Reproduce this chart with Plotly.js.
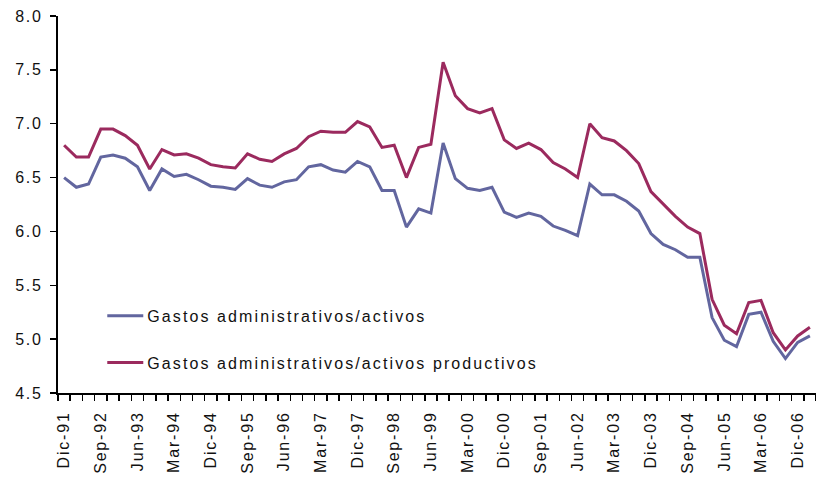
<!DOCTYPE html>
<html><head><meta charset="utf-8">
<script src="https://cdn.plot.ly/plotly-3.0.1.min.js"></script>
<style>
html,body{margin:0;padding:0;background:#fff;}
svg text{letter-spacing:1.8px;}
svg text.legendtext{letter-spacing:2.1px;}
</style></head><body>
<div id="chart" style="width:816px;height:478px;"></div>
<script>
const quarters = [
  "Dic-91",
  "Mar-92","Jun-92","Sep-92","Dic-92",
  "Mar-93","Jun-93","Sep-93","Dic-93",
  "Mar-94","Jun-94","Sep-94","Dic-94",
  "Mar-95","Jun-95","Sep-95","Dic-95",
  "Mar-96","Jun-96","Sep-96","Dic-96",
  "Mar-97","Jun-97","Sep-97","Dic-97",
  "Mar-98","Jun-98","Sep-98","Dic-98",
  "Mar-99","Jun-99","Sep-99","Dic-99",
  "Mar-00","Jun-00","Sep-00","Dic-00",
  "Mar-01","Jun-01","Sep-01","Dic-01",
  "Mar-02","Jun-02","Sep-02","Dic-02",
  "Mar-03","Jun-03","Sep-03","Dic-03",
  "Mar-04","Jun-04","Sep-04","Dic-04",
  "Mar-05","Jun-05","Sep-05","Dic-05",
  "Mar-06","Jun-06","Sep-06","Dic-06",
  "Mar-07"
];
const tickLabels = ["Dic-91","Sep-92","Jun-93","Mar-94","Dic-94","Sep-95","Jun-96","Mar-97","Dic-97","Sep-98","Jun-99","Mar-00","Dic-00","Sep-01","Jun-02","Mar-03","Dic-03","Sep-04","Jun-05","Mar-06","Dic-06"];
const gastosActivos = [
  6.50,6.41,6.44,6.69,6.71,6.68,6.60,6.38,6.58,6.51,
  6.53,6.48,6.42,6.41,6.39,6.49,6.43,6.41,6.46,6.48,
  6.60,6.62,6.57,6.55,6.65,6.60,6.38,6.38,6.04,6.21,
  6.17,6.82,6.49,6.40,6.38,6.41,6.18,6.13,6.17,6.14,
  6.05,6.01,5.96,6.44,6.34,6.34,6.28,6.19,5.98,5.88,
  5.83,5.76,5.76,5.20,4.99,4.93,5.23,5.25,4.98,4.82,
  4.97,5.03
];
const gastosProductivos = [
  6.80,6.69,6.69,6.95,6.95,6.89,6.80,6.58,6.76,6.71,
  6.72,6.68,6.62,6.60,6.59,6.72,6.67,6.65,6.72,6.77,
  6.88,6.93,6.92,6.92,7.02,6.97,6.78,6.80,6.50,6.78,
  6.81,7.57,7.26,7.14,7.10,7.14,6.85,6.77,6.82,6.76,
  6.64,6.58,6.50,7.00,6.87,6.84,6.75,6.63,6.37,6.25,
  6.14,6.04,5.98,5.37,5.13,5.05,5.34,5.36,5.06,4.90,
  5.03,5.11
];
const seriesNames = ["Gastos administrativos/activos","Gastos administrativos/activos productivos"];
const seriesColors = ["#62669f","#9b2a5e"];

const xIdx = quarters.map((q, i) => i);
const tickPos = tickLabels.map(t => quarters.indexOf(t));
const FONT = "'Liberation Sans', Arial, sans-serif";

const traces = [gastosActivos, gastosProductivos].map((vals, k) => ({
  type: "scatter", mode: "lines",
  x: xIdx, y: vals,
  name: seriesNames[k],
  legendgroup: "g" + k,
  line: {color: seriesColors[k], width: 3},
  hoverinfo: "skip"
}));

const layout = {
  width: 816, height: 478,
  margin: {l: 58, r: 0, t: 16, b: 85},
  paper_bgcolor: "#fff", plot_bgcolor: "#fff",
  font: {family: FONT, size: 16, color: "#111"},
  showlegend: true,
  legend: {
    x: 0.065, xanchor: "left", y: 0.25, yanchor: "top",
    bgcolor: "rgba(0,0,0,0)", borderwidth: 0,
    traceorder: "grouped", tracegroupgap: 23,
    font: {family: FONT, size: 16, color: "#111"}
  },
  xaxis: {
    range: [-0.5, quarters.length - 0.5],
    tickmode: "array", tickvals: tickPos, ticktext: tickLabels,
    tickangle: -90, ticks: "", ticklabelstandoff: 10,
    minor: {tickmode: "linear", tick0: -0.5, dtick: 1, ticks: "outside", ticklen: 6, tickwidth: 1.5, tickcolor: "#000", showgrid: false},
    showline: true, linecolor: "#000", linewidth: 2,
    showgrid: false, zeroline: false,
    tickfont: {family: FONT, size: 16, color: "#111"},
    fixedrange: true
  },
  yaxis: {
    range: [4.5, 8.0], dtick: 0.5, tick0: 4.5, tickformat: ".1f",
    ticks: "outside", ticklen: 6, tickwidth: 1.5, tickcolor: "#000",
    ticklabelstandoff: 4,
    showline: true, linecolor: "#000", linewidth: 2,
    showgrid: false, zeroline: false,
    tickfont: {family: FONT, size: 16, color: "#111"},
    fixedrange: true
  }
};

Plotly.newPlot("chart", traces, layout, {staticPlot: true, displayModeBar: false}).then(gd => {
  // lengthen the legend line samples to match the reference look
  gd.querySelectorAll(".legendlines path").forEach(p => p.setAttribute("d", "M-10,0h46"));
});
</script>
</body></html>
